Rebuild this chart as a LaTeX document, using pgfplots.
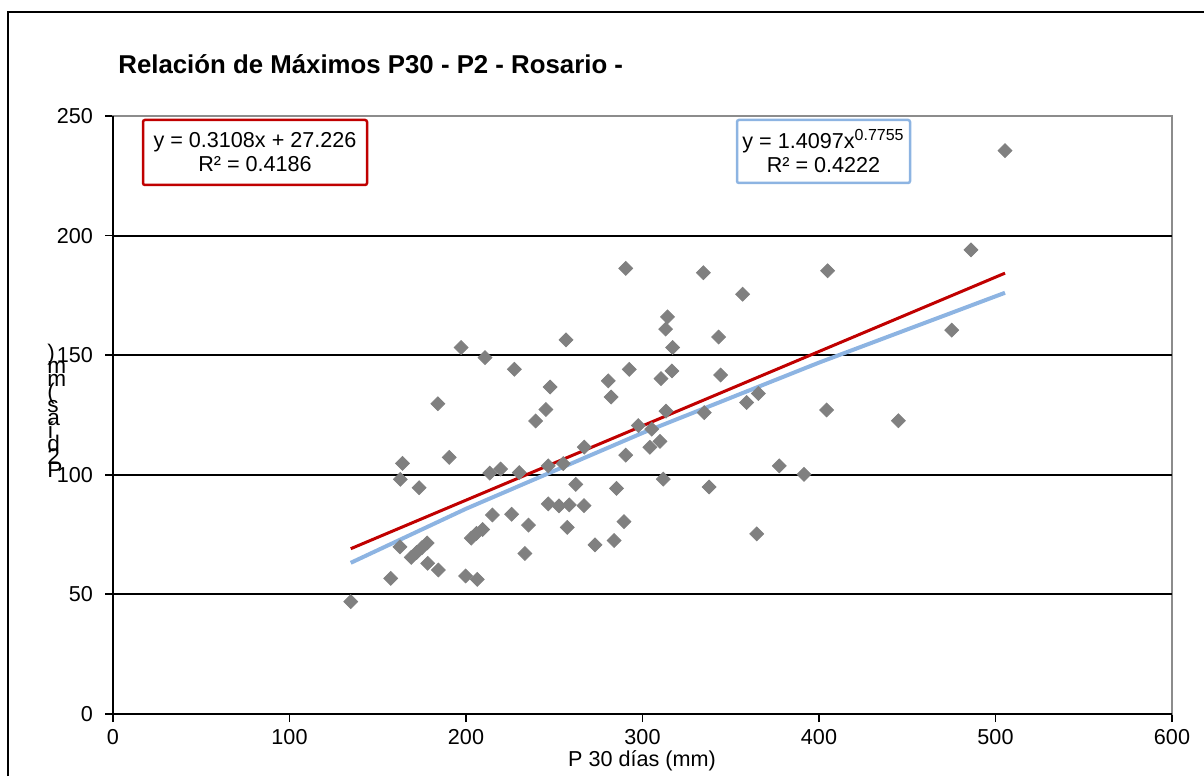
\documentclass[border=0pt]{standalone}
\usepackage{pgfplots}
\pgfplotsset{compat=1.18}
\usepackage{fontspec}
\setmainfont{Liberation Sans}

\definecolor{ptgray}{RGB}{128,128,128}
\definecolor{fitred}{RGB}{192,0,0}
\definecolor{fitblue}{RGB}{141,180,226}
\definecolor{boxgray}{RGB}{140,140,140}

\newcommand{\tickfont}{\fontsize{10.8}{13}\selectfont}

\begin{document}
\begin{tikzpicture}
% 1 px of the reference = 0.5pt, origin at the axis corner
\useasboundingbox (-56.5pt,-31pt) rectangle (545.5pt,357pt);

\begin{axis}[
    scale only axis,
    width=529.5pt, height=299pt,
    xmin=0, xmax=600, ymin=0, ymax=250,
    xtick={0,100,...,600},
    ytick={0,50,...,250},
    tick pos=left,
    tick align=outside,
    major tick length=4pt,
    tick style={black, line width=0.9pt},
    axis line style={draw=boxgray, line width=1.1pt},
    ticklabel style={font=\tickfont},
    yticklabel style={xshift=-2.5pt},
    /pgf/number format/assume math mode=true,
    clip=false,
]

% horizontal gridlines
\draw[black, line width=1pt] (axis cs:0,50) -- (axis cs:600,50);
\draw[black, line width=1pt] (axis cs:0,100) -- (axis cs:600,100);
\draw[black, line width=1pt] (axis cs:0,150) -- (axis cs:600,150);
\draw[black, line width=1pt] (axis cs:0,200) -- (axis cs:600,200);

\addplot[only marks, mark=square*, mark size=2.45pt,
    mark options={rotate=45, fill=ptgray, draw=ptgray}] coordinates {
(134.7,47) (157.3,56.7) (162.6,69.9) (162.8,98.1) (164,104.8)
(169,65.5) (172,67.5) (175,69.5) (178,71.5) (178.3,63) (184.3,60.2)
(173.4,94.6) (184,129.7) (190.5,107.3) (197.2,153.2) (199.8,57.7)
(206.4,56.3) (203,73.5) (206,75.5) (209.4,77.1) (210.8,149)
(213.5,100.7) (219.6,102.4) (215,83.2) (225.9,83.5) (227.4,144.1)
(230.2,100.9) (233.4,67.1) (235.4,79) (239.5,122.5) (245.3,127.3)
(247.6,136.7) (246.6,103.7) (246.6,87.8) (252.7,87) (255.1,104.7)
(256.7,156.4) (257.4,78) (258.5,87.4) (262.2,96) (266.9,87.1)
(267,111.6) (273.1,70.7) (280.6,139.3) (282.2,132.5) (283.9,72.5)
(285.3,94.3) (289.5,80.4) (290.5,108.2) (290.5,186.3) (292.5,144.1)
(297.6,120.6) (304.2,111.5) (305.2,119.1) (309.9,114) (310.5,140.2)
(311.8,98.2) (313.1,160.9) (313.3,126.6) (314.2,166) (316.7,143.4)
(317.1,153.2) (334.5,184.5) (335,126) (337.7,94.9) (343.1,157.6)
(344.3,141.7) (356.7,175.5) (359,130.2) (364.7,75.3) (365.6,134)
(377.5,103.7) (391.5,100.2) (404.3,127.1) (404.9,185.3) (445,122.6)
(475.2,160.5) (486.1,194) (505.4,235.5)
};

% power trendline
\addplot[no marks, fitblue, line width=2pt] coordinates {
(134.7,63.2) (200,85.8) (300,117.5) (400,146.9) (505.4,176.1)
};
% linear trendline
\addplot[no marks, fitred, line width=1.5pt] coordinates {
(134.7,69.1) (505.4,184.3)
};

\draw[black, line width=1pt] (rel axis cs:0,1) -- (rel axis cs:0,0) -- (rel axis cs:1,0);
\end{axis}

% outer chart frame (only left and top edges are visible)
\draw[black, line width=0.75pt] (-52.5pt,-31pt) -- (-52.5pt,351pt) -- (545.5pt,351pt);

% title
\node[anchor=west, inner sep=0pt, font=\fontsize{12.9}{15}\selectfont\bfseries]
    at (2.5pt,325pt) {Relación de Máximos P30 - P2 - Rosario -};

% x label
\node[font=\tickfont, inner sep=0pt] at (264.5pt,-23.5pt) {P 30 días (mm)};

% y label, letters stacked upright
\node[anchor=south west, inner sep=0pt, font=\fontsize{11.3}{13}\selectfont] at (-33pt,118pt)
    {\vbox{\baselineskip=6.5pt\lineskiplimit=-\maxdimen
      \hbox{)}\hbox{m}\hbox{m}\hbox{(}\hbox{s}\hbox{a}\hbox{í}\hbox{d}\hbox{2}\hbox{P}}};

% equation boxes
\node[draw=fitred, line width=1.25pt, fill=white, rounded corners=1pt,
    minimum width=112pt, minimum height=32.5pt, align=center,
    font=\fontsize{10.8}{12}\selectfont, inner sep=0pt]
    at (71pt,280.75pt) {y = 0.3108x + 27.226\\R² = 0.4186};
\node[draw=fitblue, line width=1.25pt, fill=white, rounded corners=1pt,
    minimum width=86.5pt, minimum height=31.5pt, align=center,
    font=\fontsize{10.8}{12}\selectfont, inner sep=0pt]
    at (355.25pt,281.25pt) {y = 1.4097x\textsuperscript{\fontsize{8}{8}\selectfont 0.7755}\\R² = 0.4222};
\end{tikzpicture}
\end{document}
